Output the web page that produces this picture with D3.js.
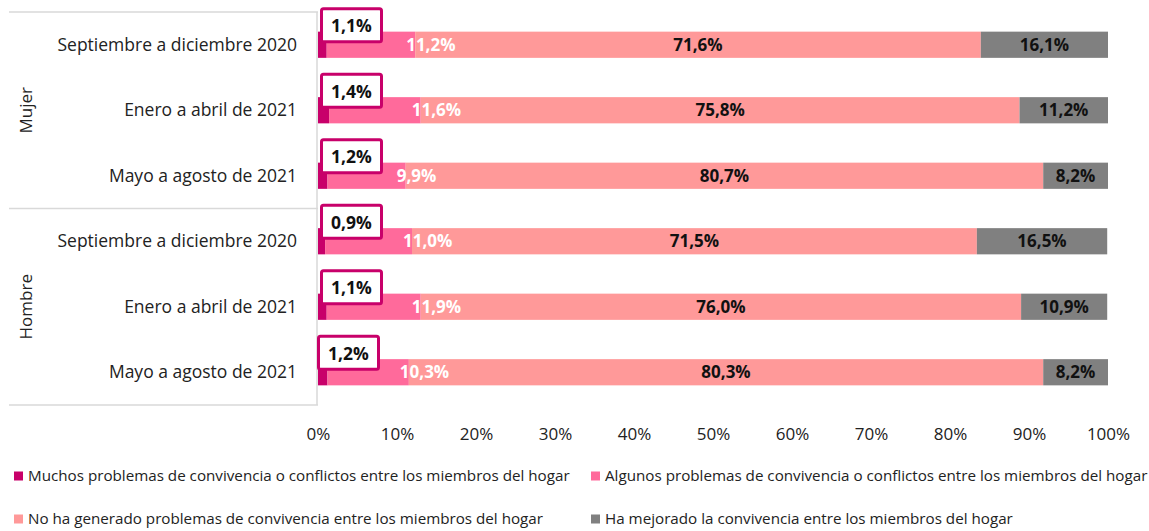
<!DOCTYPE html>
<html>
<head>
<meta charset="utf-8">
<script src="https://cdn.jsdelivr.net/npm/d3@7"></script>
<style>
  body { margin: 0; background: #fff; }
  svg { display: block; font-family: "Open Sans", "Noto Sans", sans-serif; }
</style>
</head>
<body>
<svg id="chart" width="1149" height="531"></svg>
<script>
// Convivencia en el hogar, por sexo y periodo (porcentajes).

const groups = ["Mujer", "Hombre"];
const periods = ["Septiembre a diciembre 2020", "Enero a abril de 2021", "Mayo a agosto de 2021"];

const seriesNames = [
  "Muchos problemas de convivencia o conflictos entre los miembros del hogar",
  "Algunos problemas de convivencia o conflictos entre los miembros del hogar",
  "No ha generado problemas de convivencia entre los miembros del hogar",
  "Ha mejorado la convivencia entre los miembros del hogar",
];

// One array per series, rows in order: Mujer x3 periods, Hombre x3 periods.
const muchos   = [1.1, 1.4, 1.2, 0.9, 1.1, 1.2];
const algunos  = [11.2, 11.6, 9.9, 11.0, 11.9, 10.3];
const noHa     = [71.6, 75.8, 80.7, 71.5, 76.0, 80.3];
const mejorado = [16.1, 11.2, 8.2, 16.5, 10.9, 8.2];

const xTicks = [0, 10, 20, 30, 40, 50, 60, 70, 80, 90, 100];

const COLORS = ["#C8006A", "#FF6A9B", "#FF9999", "#808080"];
const LINE = "#D9D9D9";

const svg = d3.select("#chart");

const plot = { left: 318, right: 1108, top: 12, bottom: 405 };

const rows = groups.flatMap(g => periods.map(p => ({ group: g, period: p, key: g + "|" + p })));
rows.forEach((r, i) => {
  r.values = [muchos[i], algunos[i], noHa[i], mejorado[i]];
});

const x = d3.scaleLinear().domain([0, 100]).range([plot.left, plot.right]);
const y = d3.scaleBand()
  .domain(rows.map(r => r.key))
  .range([plot.top, plot.bottom])
  .paddingInner(0.6)
  .paddingOuter(0.3);

const es = d3.formatLocale({ decimal: ",", thousands: ".", grouping: [3], currency: ["", "€"] });
const pct = v => es.format(".1f")(v) + "%";

// Category frame lines (two-level axis).
const frame = svg.append("g").attr("stroke", LINE).attr("stroke-width", 1.5);
const groupEdges = [plot.top, (plot.top + plot.bottom) / 2, plot.bottom];
groupEdges.forEach(yy => {
  frame.append("line").attr("x1", 9).attr("x2", plot.left).attr("y1", yy).attr("y2", yy);
});
frame.append("line").attr("x1", plot.left - 1).attr("x2", plot.left - 1)
  .attr("y1", plot.top).attr("y2", plot.bottom);

// Period labels.
svg.append("g").selectAll("text")
  .data(rows)
  .join("text")
  .attr("x", 297)
  .attr("y", d => y(d.key) + y.bandwidth() / 2)
  .attr("dy", "0.35em")
  .attr("text-anchor", "end")
  .attr("font-size", "17.5px")
  .attr("fill", "#222")
  .text(d => d.period);

// Group labels, rotated.
groups.forEach((g, i) => {
  const cy = (groupEdges[i] + groupEdges[i + 1]) / 2;
  svg.append("text")
    .attr("transform", `translate(26,${cy}) rotate(-90)`)
    .attr("text-anchor", "middle")
    .attr("dy", "0.35em")
    .attr("font-size", "17px")
    .attr("fill", "#222")
    .text(g);
});

// Stacked bars.
const stacked = rows.map(r => {
  let acc = 0;
  return r.values.map((v, si) => {
    const seg = { row: r, si, v, x0: acc, x1: acc + v };
    acc += v;
    return seg;
  });
});

const barG = svg.append("g");
stacked.forEach(segs => {
  barG.selectAll(null)
    .data(segs)
    .join("rect")
    .attr("x", d => x(d.x0))
    .attr("y", d => y(d.row.key))
    .attr("width", d => x(d.x1) - x(d.x0))
    .attr("height", y.bandwidth())
    .attr("fill", d => COLORS[d.si]);
});

// Labels for "Algunos" (white, just past the segment end), then the two others centred.
const lab = svg.append("g").attr("font-weight", 700).attr("font-size", "17px");
stacked.forEach(segs => {
  const s = segs[1];
  lab.append("text")
    .attr("x", x(s.x1) - 9)
    .attr("y", y(s.row.key) + y.bandwidth() / 2)
    .attr("dy", "0.36em")
    .attr("fill", "#fff")
    .text(pct(s.v));
  [segs[2], segs[3]].forEach(t => {
    lab.append("text")
      .attr("x", (x(t.x0) + x(t.x1)) / 2)
      .attr("y", y(t.row.key) + y.bandwidth() / 2)
      .attr("dy", "0.36em")
      .attr("text-anchor", "middle")
      .attr("fill", "#111")
      .text(pct(t.v));
  });
});

// Callout boxes for "Muchos".
const callouts = svg.append("g");
stacked.forEach((segs, i) => {
  const s = segs[0];
  const top = y(s.row.key);
  const bx = (i === 5 ? plot.left - 1 : plot.left + 2) + 1.5;
  const by = top - 23;
  const w = 60, h = 33;
  const c = callouts.append("g");
  c.append("rect")
    .attr("x", bx).attr("y", by)
    .attr("width", w).attr("height", h)
    .attr("rx", 2)
    .attr("fill", "#fff")
    .attr("stroke", COLORS[0])
    .attr("stroke-width", 3);
  c.append("text")
    .attr("x", bx + w / 2)
    .attr("y", by + h / 2 + 1)
    .attr("dy", "0.36em")
    .attr("text-anchor", "middle")
    .attr("font-size", "17.5px")
    .attr("font-weight", 700)
    .attr("fill", "#111")
    .text(pct(s.v));
});

// X axis.
const xAxis = svg.append("g")
  .attr("transform", `translate(0,${plot.bottom})`)
  .call(d3.axisBottom(x).tickValues(xTicks).tickSize(0).tickPadding(23).tickFormat(d => d + "%"));
xAxis.select(".domain").remove();
xAxis.selectAll("text")
  .attr("font-family", "\"Open Sans\", \"Noto Sans\", sans-serif")
  .attr("font-size", "17px")
  .attr("fill", "#222");

// Legend, two columns.
const legendCols = [14, 591];
const legendRows = [476, 519];
const legend = svg.append("g");
seriesNames.forEach((name, i) => {
  const lx = legendCols[i % 2];
  const ly = legendRows[Math.floor(i / 2)];
  legend.append("rect")
    .attr("x", lx).attr("y", ly - 4.5)
    .attr("width", 9).attr("height", 9)
    .attr("fill", COLORS[i]);
  legend.append("text")
    .attr("x", lx + 14)
    .attr("y", ly)
    .attr("dy", "0.35em")
    .attr("font-size", "15.2px")
    .attr("fill", "#222")
    .text(name);
});
</script>
</body>
</html>
